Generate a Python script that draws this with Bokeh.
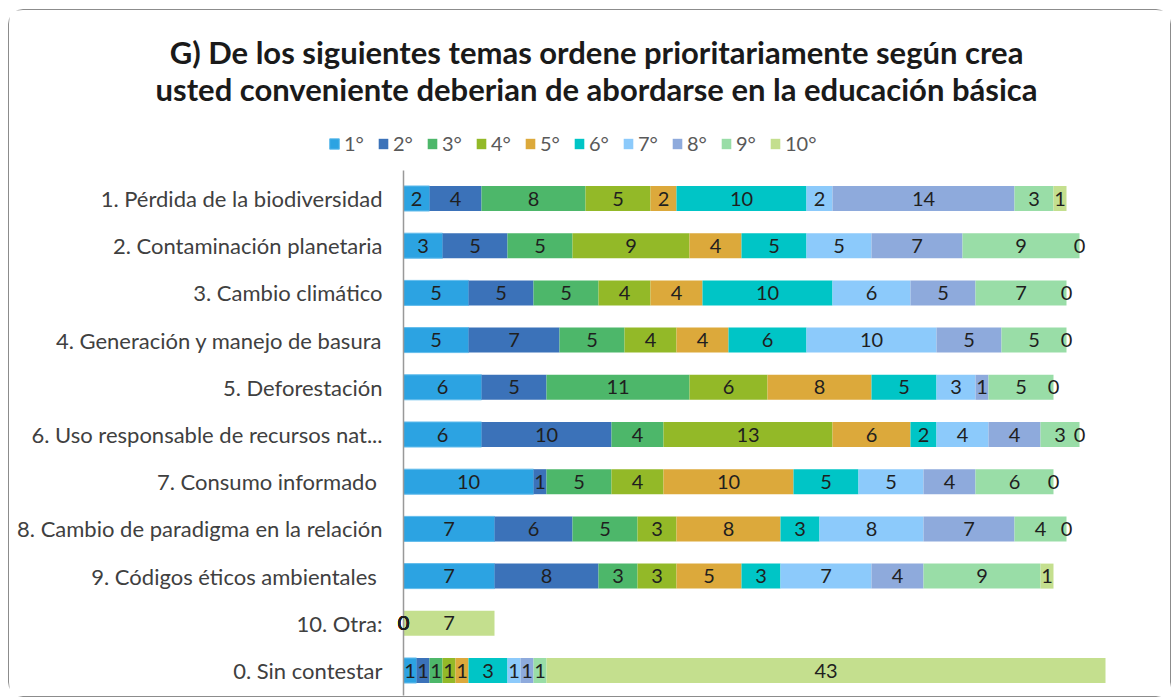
from bokeh.plotting import figure
from bokeh.models import Range1d, FixedTicker, ColumnDataSource, LabelSet, Label, Legend, LegendItem
from bokeh.core.properties import value
from bokeh.embed import file_html
from bokeh.resources import INLINE

# ---------------- data ----------------
temas = [
    "1. Pérdida de la biodiversidad",
    "2. Contaminación planetaria",
    "3. Cambio climático",
    "4. Generación y manejo de basura",
    "5. Deforestación",
    "6. Uso responsable de recursos nat...",
    "7. Consumo informado ",
    "8. Cambio de paradigma en la relación",
    "9. Códigos éticos ambientales ",
    "10. Otra:",
    "0. Sin contestar",
]
rangos = ["1°", "2°", "3°", "4°", "5°", "6°", "7°", "8°", "9°", "10°"]

r1 = [2, 3, 5, 5, 6, 6, 10, 7, 7, 0, 1]
r2 = [4, 5, 5, 7, 5, 10, 1, 6, 8, 0, 1]
r3 = [8, 5, 5, 5, 11, 4, 5, 5, 3, 0, 1]
r4 = [5, 9, 4, 4, 6, 13, 4, 3, 3, 0, 1]
r5 = [2, 4, 4, 4, 8, 6, 10, 8, 5, 0, 1]
r6 = [10, 5, 10, 6, 5, 2, 5, 3, 3, 0, 3]
r7 = [2, 5, 6, 10, 3, 4, 5, 8, 7, 0, 1]
r8 = [14, 7, 5, 5, 1, 4, 4, 7, 4, 0, 1]
r9 = [3, 9, 7, 5, 5, 3, 6, 4, 9, 0, 1]
r10 = [1, 0, 0, 0, 0, 0, 0, 0, 1, 7, 43]

titulo_1 = "G) De los siguientes temas ordene prioritariamente según crea"
titulo_2 = "usted conveniente deberian de abordarse en la educación básica"

# ---------------- styling ----------------
colores = ["#2CA3E2", "#3B72B9", "#4DB76A", "#93B928", "#DCA93B",
           "#00C5C6", "#8CCAFB", "#8EAADC", "#99DDA7", "#C4DF8E"]
bordes = ["#62BCEC"] + [None] * 9
FONT = "Lato"
W, H = 1163, 688

series = [r1, r2, r3, r4, r5, r6, r7, r8, r9, r10]
keys = ["r%d" % (k + 1) for k in range(10)]
filas = list(range(len(temas)))

data = {"y": filas}
for k, s in zip(keys, series):
    data[k] = s
src = ColumnDataSource(data)

# frame covers the whole canvas; x=0 at 394px, 13px per unit; row pitch 47.2px, first row at 188px
x0_px, ux = 394.0, 13.0
y0_px, uy = 188.0, 47.2
p = figure(width=W, height=H, output_backend="svg", toolbar_location=None,
           x_range=Range1d(-x0_px / ux, (W - x0_px) / ux),
           y_range=Range1d((H - y0_px) / uy, -y0_px / uy),
           x_axis_location=None,
           min_border_left=0, min_border_right=0, min_border_top=0, min_border_bottom=0,
           background_fill_color="white", border_fill_color="white")
p.outline_line_color = None
p.grid.visible = False
p.styles = {"border": "1px solid #8c8c8c", "border-radius": "15px",
            "margin-left": "8px", "margin-top": "9px"}

rs = p.hbar_stack(keys, y="y", height=0.53, source=src, fill_color=colores,
                  line_color=bordes, line_width=1)

# data labels
lx, ly, lt = [], [], []
for i in filas:
    start = 0
    for s in series:
        v = s[i]
        lx.append(start + v / 2)
        ly.append(i)
        lt.append(str(v))
        start += v
lab_src = ColumnDataSource(dict(x=lx, y=ly, t=lt))
p.add_layout(LabelSet(x="x", y="y", text="t", source=lab_src,
                      text_align="center", text_baseline="middle",
                      text_font=value(FONT), text_font_size="20px", text_color="#1f1f1f"))

# y axis (drawn at x = 0)
ax = p.yaxis[0]
ax.fixed_location = 0
ax.bounds = (-0.6, 10.53)
ax.ticker = FixedTicker(ticks=filas)
ax.major_label_overrides = {i: t for i, t in zip(filas, temas)}
ax.major_label_text_font = FONT
ax.major_label_text_font_size = "22px"
ax.major_label_text_color = "#404040"
ax.major_tick_line_color = None
ax.minor_tick_line_color = None
ax.major_tick_out = 0
ax.major_tick_in = 0
ax.major_label_standoff = 21
ax.axis_line_color = "#999999"
ax.axis_line_width = 1.5

# legend
items = [LegendItem(label=rangos[k], renderers=[rs[k]]) for k in range(10)]
leg = Legend(items=items, orientation="horizontal", location=(319, H - 145),
             glyph_width=12, glyph_height=13, label_standoff=4, spacing=13,
             padding=0, margin=0, border_line_color=None, background_fill_alpha=0,
             label_text_font=FONT, label_text_font_size="20px", label_text_color="#595959")
p.add_layout(leg, "center")

# title
for txt, yy in [(titulo_1, H - 41), (titulo_2, H - 78)]:
    p.add_layout(Label(x=587, y=yy, x_units="screen", y_units="screen", text=txt,
                       text_align="center", text_baseline="alphabetic",
                       text_font=FONT, text_font_style="bold", text_font_size="31px",
                       text_color="#1a1a1a"))

open("out.html", "w").write(file_html(p, INLINE))
